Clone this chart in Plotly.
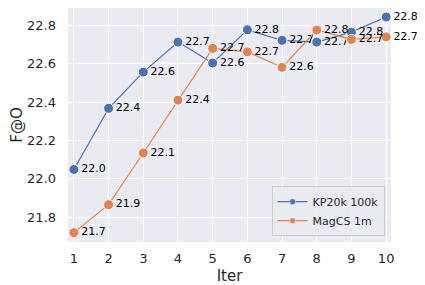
import plotly.graph_objects as go

iters = [1, 2, 3, 4, 5, 6, 7, 8, 9, 10]
kp20k = [22.049, 22.368, 22.557, 22.714, 22.605, 22.778, 22.723, 22.714, 22.766, 22.845]
magcs = [21.719, 21.865, 22.135, 22.411, 22.681, 22.663, 22.582, 22.777, 22.728, 22.741]
series_names = ["KP20k 100k", "MagCS 1m"]
colors = ["#4C72B0", "#DD8452"]
y_ticks = [21.8, 22.0, 22.2, 22.4, 22.6, 22.8]

fig = go.Figure()
for name, vals, c in zip(series_names, [kp20k, magcs], colors):
    fig.add_trace(go.Scatter(
        x=iters, y=vals, name=name, mode="lines+markers+text",
        text=[f"{v:.1f}" for v in vals], textposition="middle right",
        textfont=dict(family="DejaVu Sans", size=11, color="black"),
        line=dict(color=c, width=1.2),
        marker=dict(color=c, size=10, line=dict(color="white", width=1)),
        cliponaxis=False, showlegend=False,
    ))
# legend entries with smaller markers
for name, c in zip(series_names, colors):
    fig.add_trace(go.Scatter(
        x=[None], y=[None], name=name, mode="lines+markers",
        line=dict(color=c, width=1.2),
        marker=dict(color=c, size=6, line=dict(color="white", width=0.5)),
    ))

fig.update_layout(
    width=417, height=277,
    margin=dict(l=60, r=34, t=0, b=43),
    paper_bgcolor="white", plot_bgcolor="#EAEAF2",
    font=dict(family="DejaVu Sans", color="#262626"),
    legend=dict(x=0.98, y=0.025, xanchor="right", yanchor="bottom",
                bgcolor="rgba(234,234,242,0.85)", bordercolor="#CCCCCC", borderwidth=1,
                font=dict(size=11, color="#262626"), tracegroupgap=0,
                itemwidth=30),
)
fig.update_xaxes(
    range=[0.83, 10.14], tickmode="array", tickvals=iters,
    ticktext=[str(i) for i in iters], showgrid=True, gridcolor="white", gridwidth=1,
    zeroline=False, tickfont=dict(size=13), ticks="", automargin=False,
    ticklabelstandoff=7,
    title=dict(text="Iter", font=dict(size=15), standoff=6),
)
fig.update_yaxes(
    range=[21.67, 22.892], tickmode="array", tickvals=y_ticks,
    ticktext=[f"{t:.1f}" for t in y_ticks], showgrid=True, gridcolor="white", gridwidth=1,
    zeroline=False, tickfont=dict(size=13), ticks="", automargin=False,
    ticklabelstandoff=11,
    title=dict(text="F@O", font=dict(size=15), standoff=4),
)
fig.write_html("out.html")
